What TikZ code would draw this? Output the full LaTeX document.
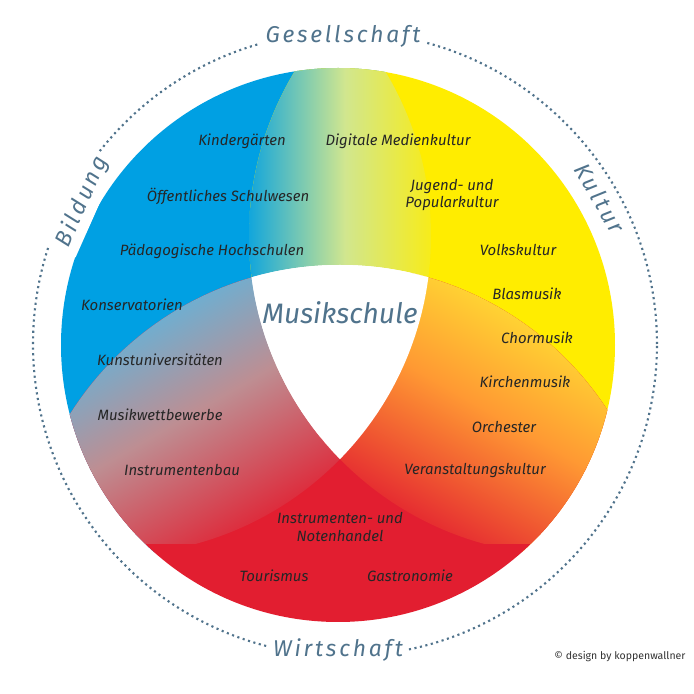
\documentclass[tikz,border=0pt]{standalone}
\usepackage{fontspec}
\setmainfont{Fira Sans}
\definecolor{blau}{RGB}{0,160,227}
\definecolor{gelb}{RGB}{255,237,0}
\definecolor{rot}{RGB}{226,30,48}
\definecolor{titel}{RGB}{80,115,140}
\tikzset{
  feld/.style={font=\itshape\fontsize{8.5}{10}\selectfont, text=black!85, align=center, inner sep=1pt},
  ring/.style={font=\itshape\fontsize{13}{15}\selectfont\addfontfeature{LetterSpace=12}, text=titel, fill=white, inner sep=3pt},
}
\begin{document}
\begin{tikzpicture}[x=0.02cm, y=0.02cm]
    \useasboundingbox (0,0) rectangle (694,694);
    \fill[white] (0,0) rectangle (694,694);
    % dotted ring
    \draw[titel, line width=1.2pt, dotted] (345,350) circle (312);
    % coloured disc
    \begin{scope}
        \clip (338,349) circle (277);
        \fill[blau] (112,458) circle (319);
        \fill[gelb] (568,458) circle (319);
        \fill[rot] (340,110) circle (319);
        \begin{scope}
            \clip (112,458) circle (319);
            \clip (568,458) circle (319);
            \shade[left color=blau, right color=gelb, middle color=blau!30!gelb!60!white] (240,250) rectangle (450,694);
            \clip (340,110) circle (319);
            \fill[white] (0,0) rectangle (694,694);
        \end{scope}
        \begin{scope}
            \clip (112,458) circle (319);
            \clip (340,110) circle (319);
            \shade[top color=blau!70!white, bottom color=rot, middle color=rot!35!gray!70!white, shading angle=30] (40,150) rectangle (360,420);
            \clip (568,458) circle (319);
            \fill[white] (0,0) rectangle (694,694);
        \end{scope}
        \begin{scope}
            \clip (568,458) circle (319);
            \clip (340,110) circle (319);
            \shade[top color=gelb!80!white, bottom color=rot, middle color=orange!80!white, shading angle=-30] (320,150) rectangle (650,420);
            \clip (112,458) circle (319);
            \fill[white] (0,0) rectangle (694,694);
        \end{scope}
    \end{scope}
    % ring labels
    \node[ring] (gesellschaft) at (343,658) {Gesellschaft};
    \node[ring] (wirtschaft) at (338,44) {Wirtschaft};
    \node[ring, rotate=66] (bildung) at (82,492) {Bildung};
    \node[ring, rotate=-60] (kultur) at (600,496) {Kultur};
    % centre
    \node[font=\itshape\fontsize{16}{18}\selectfont, text=titel] (musikschule) at (340,381) {Musikschule};
    % Bildung
    \node[feld] (kindergaerten) at (242,553) {Kindergärten};
    \node[feld] (schulwesen) at (228,498) {Öffentliches Schulwesen};
    \node[feld] (hochschulen) at (212,443) {Pädagogische Hochschulen};
    \node[feld] (konservatorien) at (132,389) {Konservatorien};
    \node[feld] (kunstuni) at (160,334) {Kunstuniversitäten};
    \node[feld] (wettbewerbe) at (160,279) {Musikwettbewerbe};
    \node[feld] (instrumentenbau) at (182,224) {Instrumentenbau};
    % Kultur
    \node[feld] (medien) at (398,553) {Digitale Medienkultur};
    \node[feld] (jugend) at (452,499) {Jugend- und\\Popularkultur};
    \node[feld] (volk) at (518,444) {Volkskultur};
    \node[feld] (blas) at (527,400) {Blasmusik};
    \node[feld] (chor) at (537,356) {Chormusik};
    \node[feld] (kirche) at (525,312) {Kirchenmusik};
    \node[feld] (orchester) at (504,267) {Orchester};
    \node[feld] (veranstaltung) at (475,223) {Veranstaltungskultur};
    % Wirtschaft
    \node[feld] (handel) at (340,167) {Instrumenten- und\\Notenhandel};
    \node[feld] (tourismus) at (274,118) {Tourismus};
    \node[feld] (gastro) at (410,118) {Gastronomie};
    \node[font=\fontsize{6}{7}\selectfont, text=black!80] (copy) at (620,37) {© design by koppenwallner};
\end{tikzpicture}
\end{document}
